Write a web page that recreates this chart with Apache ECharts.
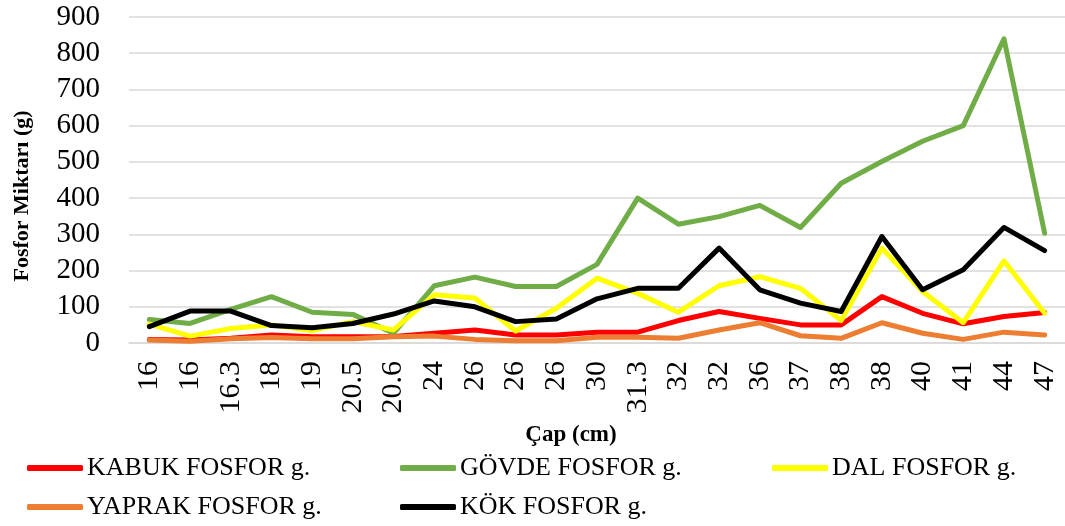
<!DOCTYPE html>
<html>
<head>
<meta charset="utf-8">
<script src="https://cdn.jsdelivr.net/npm/echarts@6/dist/echarts.min.js"></script>
<style>
  html, body { margin: 0; padding: 0; background: #fff; }
  #chart { width: 1065px; height: 526px; }
</style>
</head>
<body>
<div id="chart"></div>
<script>
// çap kategorileri (cm)
const capLabels = ['16', '16', '16.3', '18', '19', '20.5', '20.6', '24', '26', '26', '26', '30', '31.3', '32', '32', '36', '37', '38', '38', '40', '41', '44', '47'];

// fosfor miktarları (g)
const kabuk  = [10, 8, 13, 22, 17, 17, 18, 27, 36, 22, 22, 30, 30, 62, 87, 68, 50, 50, 128, 82, 53, 73, 84];
const govde  = [65, 54, 93, 128, 85, 79, 27, 158, 182, 156, 156, 217, 400, 328, 349, 380, 319, 441, 501, 557, 600, 840, 303];
const dal    = [52, 19, 40, 50, 34, 59, 36, 133, 124, 33, 96, 179, 137, 85, 158, 183, 151, 62, 262, 142, 56, 227, 82];
const yaprak = [8, 5, 12, 15, 12, 12, 17, 19, 10, 6, 6, 16, 16, 13, 36, 56, 20, 13, 56, 27, 10, 30, 22];
const kok    = [45, 88, 88, 48, 42, 54, 80, 116, 100, 59, 66, 122, 151, 151, 262, 147, 110, 87, 294, 147, 202, 319, 255];

const yTicks = { min: 0, max: 900, interval: 100 };

const FONT = '"Liberation Serif", "DejaVu Serif", serif';

const seriesDefs = [
    { name: 'KABUK FOSFOR g.', data: kabuk, color: '#FF0000' },
    { name: 'GÖVDE FOSFOR g.', data: govde, color: '#70AD47' },
    { name: 'DAL FOSFOR g.', data: dal, color: '#FFFF00' },
    { name: 'YAPRAK FOSFOR g.', data: yaprak, color: '#ED7D31' },
    { name: 'KÖK FOSFOR g.', data: kok, color: '#000000' }
];

// lejant konumları (iki satır)
const legendPos = [
    { left: 27, top: 455 },
    { left: 400, top: 455 },
    { left: 772, top: 455 },
    { left: 27, top: 494 },
    { left: 400, top: 494 }
];

const mycharts = echarts.init(document.getElementById('chart'), null, { renderer: 'canvas' });

const option = {
    animation: false,
    backgroundColor: '#ffffff',
    grid: {
        left: 129,
        right: -7,
        top: 17,
        bottom: 183,
        containLabel: false
    },
    legend: seriesDefs.map((s, i) => ({
        data: [s.name],
        left: legendPos[i].left,
        top: legendPos[i].top,
        orient: 'horizontal',
        padding: 0,
        itemWidth: 56,
        itemHeight: 6,
        icon: 'roundRect',
        selectedMode: false,
        textStyle: {
            fontFamily: FONT,
            fontSize: 26,
            color: '#000',
            padding: [0, 0, 0, -1]
        }
    })),
    xAxis: {
        type: 'category',
        data: capLabels,
        boundaryGap: true,
        axisLine: { show: true, lineStyle: { color: '#d9d9d9', width: 1.5 } },
        axisTick: { show: false },
        axisLabel: {
            interval: 0,
            rotate: 90,
            margin: 18,
            fontFamily: FONT,
            fontSize: 30,
            color: '#000'
        }
    },
    yAxis: {
        type: 'value',
        min: yTicks.min,
        max: yTicks.max,
        interval: yTicks.interval,
        axisLine: { show: false },
        axisTick: { show: false },
        splitLine: { show: true, lineStyle: { color: '#d9d9d9', width: 1.5 } },
        axisLabel: {
            margin: 29,
            fontFamily: FONT,
            fontSize: 29,
            color: '#000'
        }
    },
    graphic: [
        {
            type: 'text',
            x: 22,
            y: 196,
            rotation: Math.PI / 2,
            style: {
                text: 'Fosfor Miktarı (g)',
                font: 'bold 22px ' + FONT,
                fill: '#000',
                align: 'center',
                verticalAlign: 'middle'
            }
        },
        {
            type: 'text',
            x: 571,
            y: 435,
            style: {
                text: 'Çap (cm)',
                font: 'bold 23px ' + FONT,
                fill: '#000',
                align: 'center',
                verticalAlign: 'middle'
            }
        }
    ],
    series: seriesDefs.map(s => ({
        name: s.name,
        type: 'line',
        data: s.data,
        symbol: 'none',
        smooth: false,
        color: s.color,
        lineStyle: { color: s.color, width: 5, cap: 'round', join: 'round' }
    }))
};

mycharts.setOption(option);
</script>
</body>
</html>
